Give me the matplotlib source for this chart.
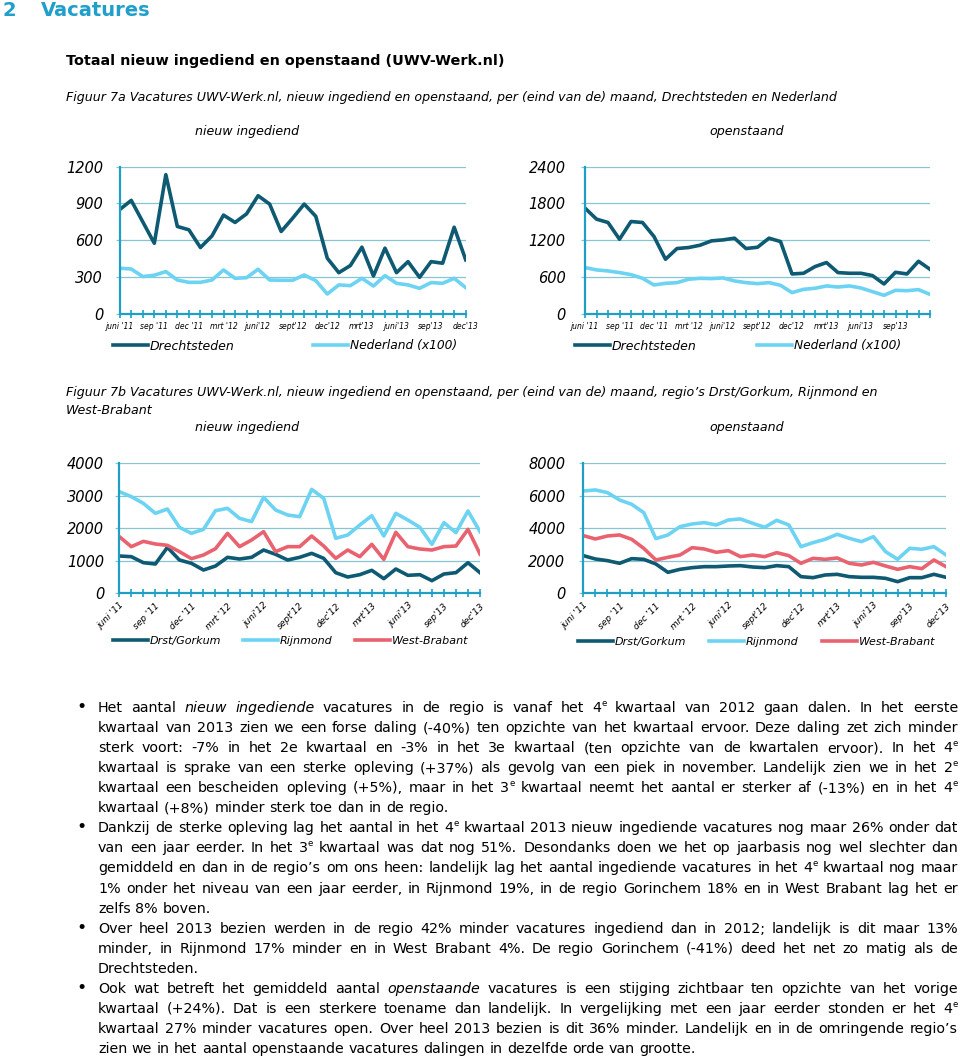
import matplotlib
matplotlib.use("Agg")
import matplotlib.pyplot as plt
from matplotlib.font_manager import FontProperties

W, H = 960, 1056

# maanden juni '11 .. dec '13
months = list(range(31))
labels_a = ["juni '11", "sep '11", "dec '11", "mrt '12", "juni'12", "sept'12",
            "dec'12", "mrt'13", "juni'13", "sep'13", "dec'13"]

# Figuur 7a - nieuw ingediend
drecht_nieuw = [850, 925, 750, 575, 1135, 712, 685, 540, 635, 805, 745, 815, 963, 895, 671, 780,
                895, 795, 453, 335, 393, 543, 308, 535, 335, 425, 297, 425, 412, 706, 440]
ned_nieuw = [371, 365, 303, 314, 344, 275, 256, 256, 275, 357, 289, 294, 363, 275, 273, 273,
             316, 270, 161, 235, 229, 289, 226, 311, 248, 235, 207, 254, 248, 289, 213]

# Figuur 7a - openstaand
drecht_open = [1724, 1544, 1489, 1216, 1505, 1489, 1260, 889, 1064, 1080, 1118, 1189, 1205, 1233, 1064, 1085,
               1233, 1178, 649, 660, 769, 835, 671, 660, 660, 622, 485, 676, 649, 856, 725]
ned_open = [753, 715, 698, 671, 638, 578, 469, 496, 507, 562, 578, 573, 584, 535, 507, 491,
            507, 464, 344, 398, 415, 453, 436, 453, 420, 360, 300, 382, 376, 393, 316]

# Figuur 7b - nieuw ingediend
gork_nieuw = [1141, 1120, 935, 894, 1408, 1018, 915, 709, 832, 1100, 1048, 1100, 1326, 1192, 1018, 1100,
              1223, 1069, 627, 493, 565, 699, 442, 740, 545, 565, 380, 586, 627, 935, 627]
rijn_nieuw = [3125, 2971, 2765, 2457, 2590, 2025, 1840, 1963, 2539, 2611, 2303, 2200, 2950, 2560, 2406, 2354,
              3197, 2920, 1686, 1789, 2097, 2385, 1758, 2457, 2251, 2025, 1501, 2169, 1861, 2529, 1892]
wb_nieuw = [1737, 1429, 1593, 1511, 1470, 1275, 1059, 1172, 1367, 1840, 1429, 1634, 1892, 1275, 1429, 1429,
            1758, 1449, 1069, 1326, 1120, 1501, 1038, 1871, 1429, 1357, 1326, 1429, 1449, 1963, 1203]

# Figuur 7b - openstaand
gork_open = [2304, 2098, 1995, 1831, 2119, 2077, 1790, 1275, 1460, 1563, 1625, 1625, 1666, 1687, 1604, 1563,
             1687, 1625, 1008, 946, 1111, 1152, 1008, 967, 967, 905, 699, 946, 946, 1152, 967]
rijn_open = [6294, 6356, 6192, 5739, 5472, 4957, 3353, 3579, 4093, 4258, 4340, 4196, 4505, 4567, 4299, 4052,
             4484, 4196, 2859, 3106, 3312, 3620, 3373, 3168, 3476, 2551, 2078, 2756, 2695, 2859, 2345]
wb_open = [3538, 3332, 3517, 3579, 3312, 2756, 2036, 2201, 2345, 2797, 2715, 2510, 2612, 2242, 2345, 2242,
           2489, 2304, 1831, 2139, 2078, 2160, 1831, 1728, 1892, 1666, 1460, 1625, 1501, 2036, 1625]

body_lines = [
    "Het aantal *nieuw* *ingediende* vacatures in de regio is vanaf het 4^e kwartaal van 2012 gaan dalen. In het eerste",
    "kwartaal van 2013 zien we een forse daling (-40%) ten opzichte van het kwartaal ervoor. Deze daling zet zich minder",
    "sterk voort: -7% in het 2e kwartaal en -3% in het 3e kwartaal (ten opzichte van de kwartalen ervoor). In het 4^e",
    "kwartaal is sprake van een sterke opleving (+37%) als gevolg van een piek in november. Landelijk zien we in het 2^e",
    "kwartaal een bescheiden opleving (+5%), maar in het 3^e kwartaal neemt het aantal er sterker af (-13%) en in het 4^e",
    "kwartaal (+8%) minder sterk toe dan in de regio.",
    "Dankzij de sterke opleving lag het aantal in het 4^e kwartaal 2013 nieuw ingediende vacatures nog maar 26% onder dat",
    "van een jaar eerder. In het 3^e kwartaal was dat nog 51%. Desondanks doen we het op jaarbasis nog wel slechter dan",
    "gemiddeld en dan in de regio\u2019s om ons heen: landelijk lag het aantal ingediende vacatures in het 4^e kwartaal nog maar",
    "1% onder het niveau van een jaar eerder, in Rijnmond 19%, in de regio Gorinchem 18% en in West Brabant lag het er",
    "zelfs 8% boven.",
    "Over heel 2013 bezien werden in de regio 42% minder vacatures ingediend dan in 2012; landelijk is dit maar 13%",
    "minder, in Rijnmond 17% minder en in West Brabant 4%. De regio Gorinchem (-41%) deed het net zo matig als de",
    "Drechtsteden.",
    "Ook wat betreft het gemiddeld aantal *openstaande* vacatures is een stijging zichtbaar ten opzichte van het vorige",
    "kwartaal (+24%). Dat is een sterkere toename dan landelijk. In vergelijking met een jaar eerder stonden er het 4^e",
    "kwartaal 27% minder vacatures open. Over heel 2013 bezien is dit 36% minder. Landelijk en in de omringende regio\u2019s",
    "zien we in het aantal openstaande vacatures dalingen in dezelfde orde van grootte.",
]
bullet_lines = [0, 6, 11, 14]
last_lines = [5, 10, 13, 17]

DARK = "#0e5a72"
LIGHT = "#6cd4f2"
RED = "#e8636f"
AXIS = "#1f9fc4"
GRID = "#86c6d4"
HEAD = "#1f9fca"
LW = 2.6

fig = plt.figure(figsize=(W / 100, H / 100), dpi=100)
renderer = fig.canvas.get_renderer()


def fx(x):
    return x / W


def fy(y):
    return 1 - y / H


def tw(s, prop):
    w, h, d = renderer.get_text_width_height_descent(s, prop, ismath=False)
    return w


def fit_size(s, width, weight="normal", style="normal"):
    p = FontProperties(family="DejaVu Sans", weight=weight, style=style, size=10)
    return 10 * width / tw(s, p)


def add_ax(left, top, right, bottom):
    return fig.add_axes([left / W, 1 - bottom / H, (right - left) / W, (bottom - top) / H])


def style_ax(ax, ymax, step, labels, rotate, xsize, ypad):
    ax.set_xlim(0, 30)
    ax.set_ylim(0, ymax)
    yt = list(range(0, ymax + 1, step))
    ax.set_yticks(yt)
    ax.set_yticklabels([str(v) for v in yt], style="italic", fontsize=10.5)
    ax.set_xticks(months)
    lab = [""] * 31
    for k, t in enumerate(labels):
        lab[3 * k] = t
    if rotate:
        ax.set_xticklabels(lab, style="italic", fontsize=xsize, rotation=45,
                           ha="right", rotation_mode="anchor")
    else:
        ax.set_xticklabels(lab, style="italic", fontsize=xsize)
    ax.grid(axis="y", color=GRID, lw=0.9)
    ax.set_axisbelow(True)
    for s in ["top", "right"]:
        ax.spines[s].set_visible(False)
    for s in ["left", "bottom"]:
        ax.spines[s].set_color(AXIS)
        ax.spines[s].set_linewidth(1.6)
    ax.tick_params(axis="x", direction="inout", length=6, width=1.2, color=AXIS, pad=3)
    ax.tick_params(axis="y", direction="out", length=3, width=0.9, color=GRID, pad=ypad)
    ax.set_facecolor("none")


def legend_entry(line, x, y, label, size):
    em = size * 100 / 72
    fig.legend(handles=[line], labels=[label], loc="center left",
               bbox_to_anchor=(fx(x), fy(y)), frameon=False, borderpad=0,
               borderaxespad=0, handlelength=35 / em, handletextpad=2 / em,
               prop={"style": "italic", "size": size})


# kopjes
hs = fit_size("Vacatures", 110, weight="bold")
fig.text(fx(3), fy(11), "2", fontsize=hs, weight="bold", color=HEAD, va="center")
fig.text(fx(41), fy(11), "Vacatures", fontsize=hs, weight="bold", color=HEAD, va="center")
t1 = "Totaal nieuw ingediend en openstaand (UWV-Werk.nl)"
fig.text(fx(66), fy(61), t1, fontsize=fit_size(t1, 437, weight="bold"), weight="bold", va="center")
cap_a = "Figuur 7a Vacatures UWV-Werk.nl, nieuw ingediend en openstaand, per (eind van de) maand, Drechtsteden en Nederland"
cs = fit_size(cap_a, 770, style="italic")
fig.text(fx(66), fy(98), cap_a, fontsize=cs, style="italic", va="center")
cap_b = "Figuur 7b Vacatures UWV-Werk.nl, nieuw ingediend en openstaand, per (eind van de) maand, regio\u2019s Drst/Gorkum, Rijnmond en"
fig.text(fx(66), fy(393), cap_b, fontsize=cs, style="italic", va="center")
fig.text(fx(66), fy(411), "West-Brabant", fontsize=cs, style="italic", va="center")
for yy in [132, 428]:
    fig.text(fx(247), fy(yy), "nieuw ingediend", fontsize=cs, style="italic", va="center", ha="center")
    fig.text(fx(747), fy(yy), "openstaand", fontsize=cs, style="italic", va="center", ha="center")

# Figuur 7a links
ax1 = add_ax(119.7, 166.7, 465.7, 313.7)
l1, = ax1.plot(months, drecht_nieuw, color=DARK, lw=LW, solid_joinstyle="round")
l2, = ax1.plot(months, ned_nieuw, color=LIGHT, lw=LW, solid_joinstyle="round")
style_ax(ax1, 1200, 300, labels_a, False, 5.5, 9)
legend_entry(l1, 113, 346, "Drechtsteden", 9)
legend_entry(l2, 313, 346, "Nederland (x100)", 8.8)

# Figuur 7a rechts
ax2 = add_ax(585, 166.7, 930, 313.7)
l3, = ax2.plot(months, drecht_open, color=DARK, lw=LW, solid_joinstyle="round")
l4, = ax2.plot(months, ned_open, color=LIGHT, lw=LW, solid_joinstyle="round")
style_ax(ax2, 2400, 600, labels_a[:-1], False, 5.5, 11)
legend_entry(l3, 575, 346, "Drechtsteden", 9)
legend_entry(l4, 757, 346, "Nederland (x100)", 8.8)

# Figuur 7b links
ax3 = add_ax(119.3, 463.3, 480, 593)
l5, = ax3.plot(months, gork_nieuw, color=DARK, lw=LW, solid_joinstyle="round")
l6, = ax3.plot(months, rijn_nieuw, color=LIGHT, lw=LW, solid_joinstyle="round")
l7, = ax3.plot(months, wb_nieuw, color=RED, lw=LW, solid_joinstyle="round")
style_ax(ax3, 4000, 1000, labels_a, True, 6.5, 8)
legend_entry(l5, 112.7, 640.7, "Drst/Gorkum", 8)
legend_entry(l6, 242.7, 640.7, "Rijnmond", 8)
legend_entry(l7, 355, 640.7, "West-Brabant", 8)

# Figuur 7b rechts
ax4 = add_ax(583.3, 463.3, 946, 593)
l8, = ax4.plot(months, gork_open, color=DARK, lw=LW, solid_joinstyle="round")
l9, = ax4.plot(months, rijn_open, color=LIGHT, lw=LW, solid_joinstyle="round")
l10, = ax4.plot(months, wb_open, color=RED, lw=LW, solid_joinstyle="round")
style_ax(ax4, 8000, 2000, labels_a, True, 6.5, 10)
legend_entry(l8, 578, 641.7, "Drst/Gorkum", 8)
legend_entry(l9, 709, 641.7, "Rijnmond", 8)
legend_entry(l10, 822, 641.7, "West-Brabant", 8)


# lopende tekst, uitgevuld
def parse_word(w):
    ital = w.startswith("*") and w.endswith("*")
    if ital:
        w = w[1:-1]
    if "^" in w:
        base, sup = w.split("^")
        return [(base, ital, False), (sup, ital, True)]
    return [(w, ital, False)]


TEXT_L, TEXT_R = 98, 958
ref = FontProperties(family="DejaVu Sans", size=10)
widest = max(tw(body_lines[i].replace("*", "").replace("^", ""), ref)
             for i in range(len(body_lines)) if i not in last_lines)
fs = 10 * (TEXT_R - TEXT_L) / widest
p_norm = FontProperties(family="DejaVu Sans", size=fs)
p_ital = FontProperties(family="DejaVu Sans", style="italic", size=fs)
p_sup = FontProperties(family="DejaVu Sans", size=fs * 0.6)
p_bul = FontProperties(family="DejaVu Sans", size=fs * 1.2)
space = tw("a a", p_norm) - tw("aa", p_norm)

for i, line in enumerate(body_lines):
    base_y = 712 + i * 20.06
    if i in bullet_lines:
        fig.text(fx(76), fy(base_y), "\u2022", fontproperties=p_bul, va="baseline")
    words = [parse_word(w) for w in line.split(" ")]

    def seg_prop(ital, sup):
        return p_sup if sup else (p_ital if ital else p_norm)

    widths = [sum(tw(t, seg_prop(it, sp)) for t, it, sp in segs) for segs in words]
    if i in last_lines or len(words) < 2:
        gap = space
    else:
        gap = (TEXT_R - TEXT_L - sum(widths)) / (len(words) - 1)
    x = TEXT_L
    for segs, wd in zip(words, widths):
        for t, it, sp in segs:
            p = seg_prop(it, sp)
            fig.text(fx(x), fy(base_y - (6 if sp else 0)), t, fontproperties=p, va="baseline")
            x += tw(t, p)
        x += gap

fig.savefig("out.png", dpi=100)
